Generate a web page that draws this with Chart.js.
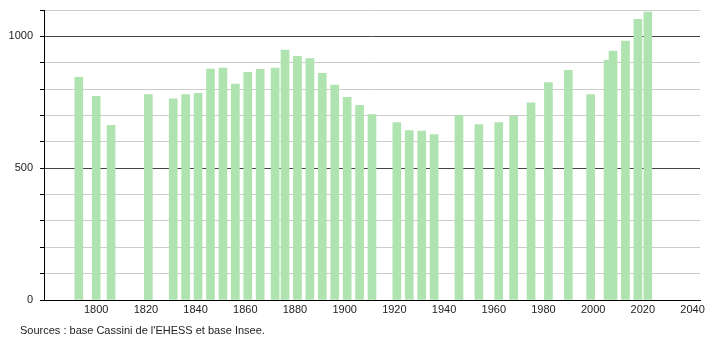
<!DOCTYPE html>
<html lang="fr">
<head>
  <meta charset="UTF-8">
  <title>Évolution de la population</title>
  <script src="https://cdn.jsdelivr.net/npm/chart.js"></script>
  <style>
    body { margin: 0; background: #fff; font-family: "Liberation Sans", Arial, sans-serif; }
    #wrap { position: relative; width: 710px; height: 340px; }
    #source { position: absolute; left: 20px; top: 324px; font-size: 11px; color: #222; }
  </style>
</head>
<body>
  <div id="wrap">
    <canvas id="popChart" width="710" height="340"></canvas>
    <div id="source">Sources : base Cassini de l'EHESS et base Insee.</div>
  </div>

  <script>
    // années de recensement et population
    const years = [1793, 1800, 1806, 1821, 1831, 1836, 1841, 1846, 1851, 1856,
                   1861, 1866, 1872, 1876, 1881, 1886, 1891, 1896, 1901, 1906,
                   1911, 1921, 1926, 1931, 1936, 1946, 1954, 1962, 1968, 1975,
                   1982, 1990, 1999, 2006, 2008, 2013, 2018, 2022];
    const population = [845, 773, 663, 779, 763, 779, 784, 876, 880, 819,
                        864, 875, 880, 948, 924, 916, 860, 815, 769, 738,
                        703, 673, 643, 641, 627, 700, 665, 673, 697, 748,
                        825, 871, 779, 909, 944, 982, 1065, 1092];
    const xTicks = [1800, 1820, 1840, 1860, 1880, 1900, 1920, 1940, 1960, 1980, 2000, 2020, 2040];
    const yTicks = [0, 100, 200, 300, 400, 500, 600, 700, 800, 900, 1000, 1100];
    const yLabels = [0, 500, 1000];

    const ctx = document.getElementById("popChart").getContext("2d");
    new Chart(ctx, {
      type: "bar",
      data: {
        datasets: [{
          data: years.map((y, i) => ({ x: y, y: population[i] })),
          backgroundColor: "#afe3af",
          barThickness: 8
        }]
      },
      options: {
        responsive: false,
        animation: false,
        layout: { padding: { top: 10, right: 10, left: 0, bottom: 20 } },
        plugins: {
          legend: { display: false },
          tooltip: { enabled: false }
        },
        scales: {
          x: {
            type: "linear",
            offset: false,
            min: 1779,
            max: 2043,
            afterBuildTicks: s => { s.ticks = xTicks.map(v => ({ value: v })); },
            afterFit: s => { s.height = 20; s.paddingLeft = 0; s.paddingRight = 0; },
            grid: { display: false, drawTicks: false, tickLength: 0 },
            border: { color: "#000", width: 1 },
            ticks: {
              padding: 3,
              maxRotation: 0,
              autoSkip: false,
              color: "#222",
              font: { family: "Liberation Sans", size: 11 },
              callback: v => v
            }
          },
          y: {
            min: 0,
            max: 1100,
            afterBuildTicks: s => { s.ticks = yTicks.map(v => ({ value: v })); },
            afterFit: s => { s.width = 44; s.paddingTop = 0; s.paddingBottom = 0; },
            border: { color: "#000", width: 1 },
            grid: {
              color: c => (c.tick && c.tick.value % 500 === 0) ? "#444" : "#cccccc",
              tickColor: "#000",
              tickLength: 4
            },
            ticks: {
              padding: 7,
              color: "#222",
              font: { family: "Liberation Sans", size: 11 },
              callback: v => yLabels.includes(v) ? v : ""
            }
          }
        }
      }
    });
  </script>
</body>
</html>
